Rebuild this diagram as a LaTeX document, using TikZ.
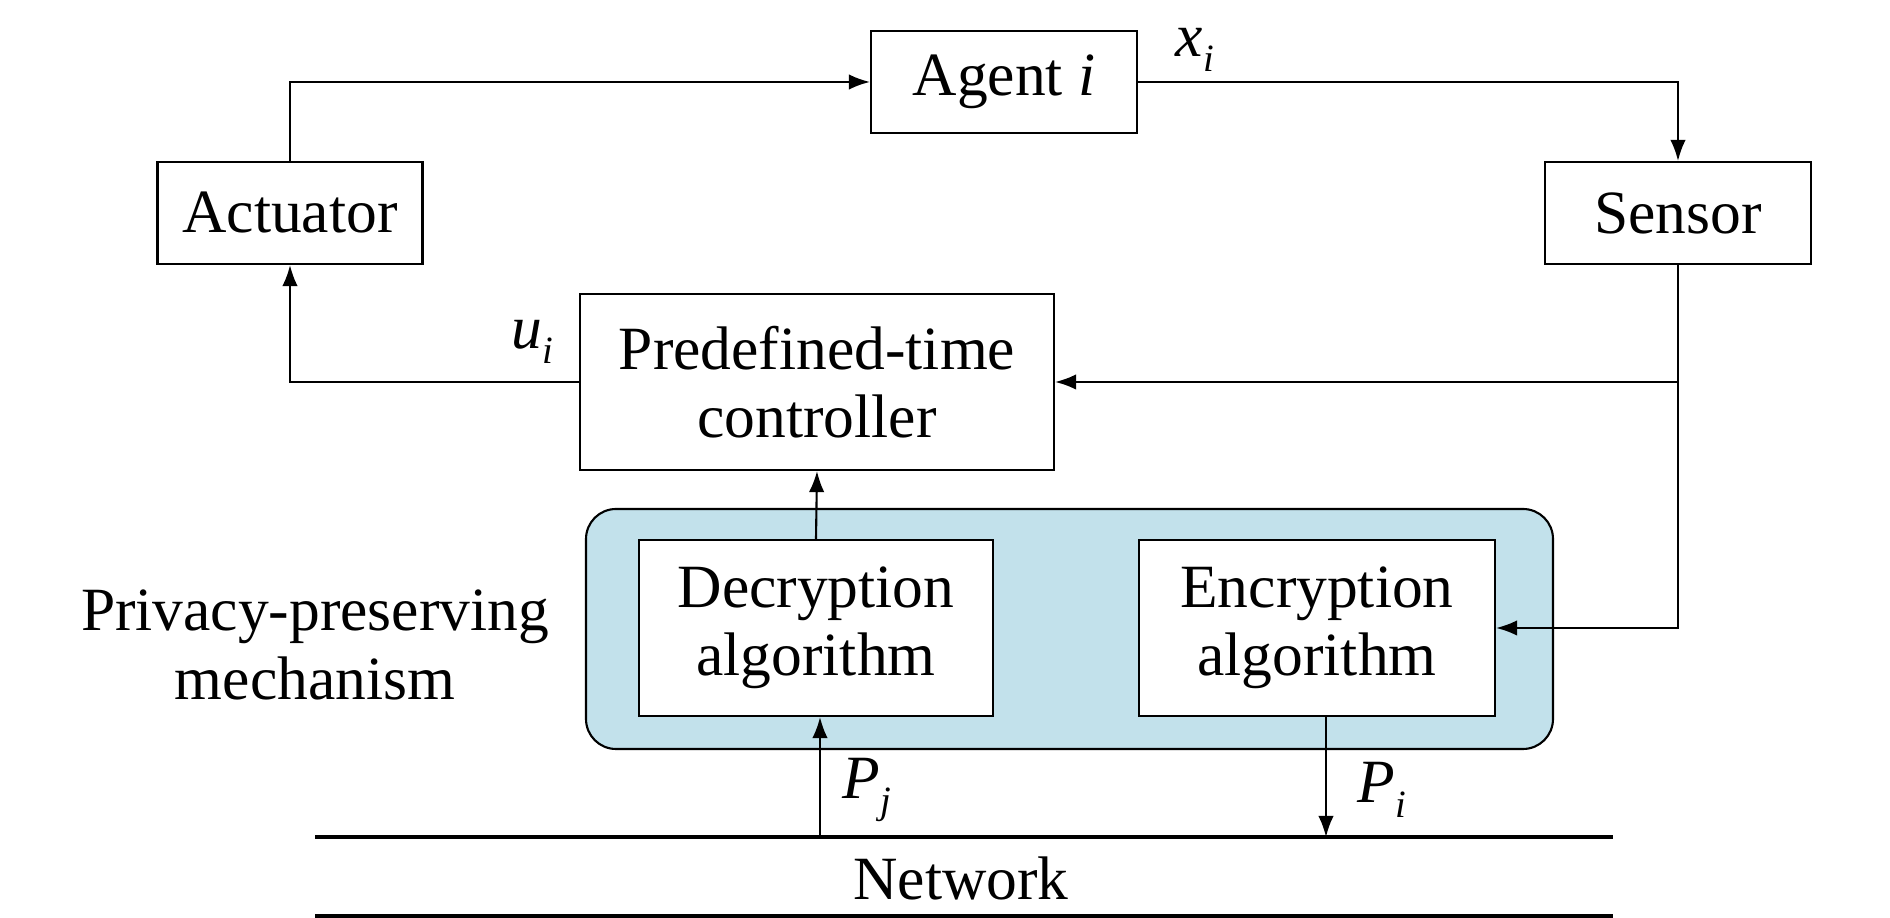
\documentclass[tikz,border=0pt]{standalone}
\usepackage{fontspec}
\setmainfont{Liberation Serif}
\usetikzlibrary{arrows.meta,positioning}
\definecolor{privblue}{RGB}{194,225,235}
\newcommand{\varsub}[2]{\textit{#1}\raisebox{-0.55ex}{\fontsize{11}{11}\selectfont\textit{#2}}}

\begin{document}
\begin{tikzpicture}[
  font=\fontsize{17.5}{19.5}\selectfont,
  blk/.style={draw,line width=0.6pt,fill=white,align=center,inner sep=0pt},
  privbox/.style={draw,line width=0.6pt,fill=privblue,rounded corners=0.3cm},
  sig/.style={line width=0.6pt,-{Latex[length=6pt,width=4.4pt]}},
  wire/.style={line width=0.6pt},
  bus/.style={line width=1pt}]
  \useasboundingbox (0,0) rectangle (18.9,9.18);
  % plant loop
  \node[blk,minimum width=2.66cm,minimum height=1.02cm] (agent) at (10.04,8.36) {Agent \textit{i}};
  \node[blk,minimum width=2.65cm,minimum height=1.02cm] (act) at (2.90,7.05) {Actuator};
  \node[blk,minimum width=2.66cm,minimum height=1.02cm] (sensor) at (16.78,7.05) {Sensor};
  \node[blk,minimum width=4.74cm,minimum height=1.76cm] (ctrl) at (8.17,5.36) {Predefined-time\\controller};
  % privacy-preserving mechanism
  \node[privbox,minimum width=9.67cm,minimum height=2.40cm] (priv) at (10.695,2.89) {};
  \node[blk,minimum width=3.54cm,minimum height=1.76cm] (dec) at (8.16,2.90) {Decryption\\algorithm};
  \node[blk,minimum width=3.56cm,minimum height=1.76cm] (enc) at (13.17,2.90) {Encryption\\algorithm};
  \node[align=center] (privlbl) at (3.15,2.73) {Privacy-preserving\\mechanism};
  % network
  \coordinate (netL) at (3.15,0.81);
  \coordinate (netR) at (16.13,0.81);
  \coordinate (netBL) at (3.15,0.02);
  \coordinate (netBR) at (16.13,0.02);
  \draw[bus] (netL) -- (netR);
  \draw[bus] (netBL) -- (netBR);
  \node (netlbl) at (9.61,0.40) {Network};
  % connectors
  \draw[sig] (act.north) |- (agent.west);
  \draw[sig] (agent.east) -| (sensor.north);
  \draw[sig] (sensor.south) |- (enc.east);
  \draw[sig] (sensor.south |- ctrl.east) -- (ctrl.east);
  \draw[sig] (ctrl.west) -| (act.south);
  \draw[sig] (dec.north) -- (ctrl.south);
  \coordinate (pjfoot) at ([xshift=0.04cm]dec.south |- netL);
  \draw[sig] (pjfoot) -- (pjfoot |- dec.south);
  \coordinate (pitop) at ([xshift=0.09cm]enc.south);
  \draw[sig] (pitop) -- (pitop |- netL);
  % signal labels
  \node (xlbl) at (11.95,8.68) {\varsub{x}{i}};
  \node (ulbl) at (5.32,5.76) {\varsub{u}{i}};
  \node (pjlbl) at (8.67,1.28) {\varsub{P}{j}};
  \node (pilbl) at (13.82,1.28) {\varsub{P}{i}};
\end{tikzpicture}
\end{document}
